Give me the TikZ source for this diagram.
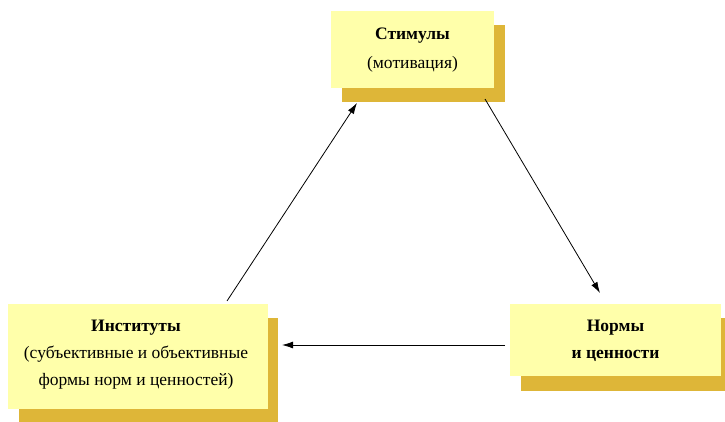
\documentclass[tikz,border=0pt]{standalone}
\usepackage{fontspec}
\setmainfont{Liberation Serif}
\usetikzlibrary{arrows.meta,calc}
\definecolor{boxfront}{HTML}{FFFFAA}
\definecolor{boxshadow}{HTML}{DEB638}
\tikzset{
  front/.style={fill=boxfront, draw=none, inner sep=0pt},
  shade/.style={fill=boxshadow, draw=none},
  txt/.style={font=\fontsize{17.5}{27}\selectfont, align=center, inner sep=0pt},
  conn/.style={draw=black, line width=0.8pt, -{Latex[length=11pt,width=7pt]}},
}
\begin{document}
\begin{tikzpicture}[x=1pt,y=-1pt]
\useasboundingbox (0,0) rectangle (725,422);
% shadows
\fill[shade] (342,25) rectangle (505,102);
\fill[shade] (19,318) rectangle (278,422);
\fill[shade] (521,318) rectangle (725,391);
% front boxes
\node[front, minimum width=163pt, minimum height=77pt] (stim) at (412.5,49.5) {};
\node[front, minimum width=260pt, minimum height=105pt] (inst) at (138,356.5) {};
\node[front, minimum width=211pt, minimum height=72pt] (norm) at (615.5,340) {};
% texts
\node[txt, font=\fontsize{17.5}{27}\selectfont\bfseries] (stimT) at (412.5,36) {Стимулы};
\node[txt] (stimS) at (412.5,64) {(мотивация)};
\node[txt] (instT) at (136,355) {\textbf{Институты}\\(субъективные и объективные\\формы норм и ценностей)};
\node[txt, font=\fontsize{17.5}{27}\selectfont\bfseries] (normT) at (615.5,341) {Нормы\\и ценности};
% connector end points
\coordinate (a1) at (227,301);
\coordinate (a2) at (357,103);
\coordinate (b1) at (485,99);
\coordinate (b2) at (600,293);
\coordinate (c1) at (505,345);
\coordinate (c2) at (282,345);
\draw[conn] (a1) -- (a2);
\draw[conn] (b1) -- (b2);
\draw[conn] (c1) -- (c2);
\end{tikzpicture}
\end{document}
